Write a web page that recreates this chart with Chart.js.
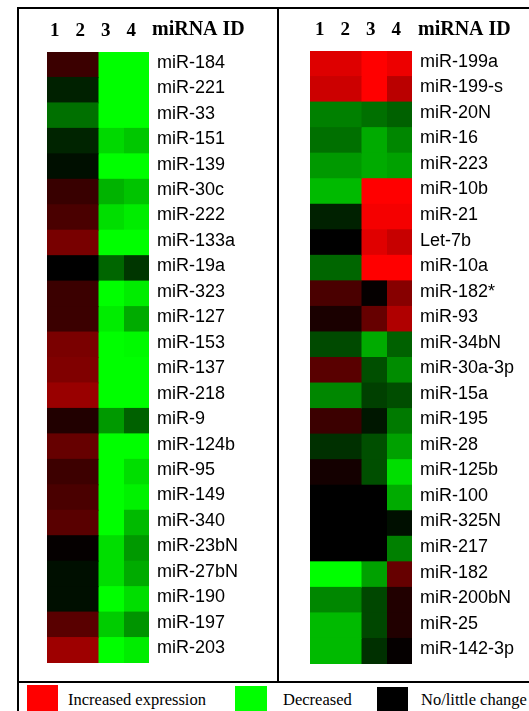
<!DOCTYPE html>
<html>
<head>
<meta charset="utf-8">
<script src="https://cdn.jsdelivr.net/npm/chart.js@4.4.1/dist/chart.umd.min.js"></script>
<style>
  html, body { margin: 0; padding: 0; background: #fff; }
  body { width: 529px; height: 711px; position: relative; overflow: hidden; }
  .line { position: absolute; background: #000; }
  .panel { position: absolute; top: 9px; }
  .key { position: absolute; }
  .key-text { position: absolute; top: 691px; font-family: "Liberation Serif", "Times New Roman", serif; font-size: 16.5px; line-height: 17px; color: #000; white-space: nowrap; }
</style>
</head>
<body>
<div class="line" style="left:17px; top:7px; width:512px; height:2px;"></div>
<div class="line" style="left:17px; top:7px; width:2px; height:704px;"></div>
<div class="line" style="left:277px; top:7px; width:2px; height:675px;"></div>
<div class="line" style="left:17px; top:681px; width:512px; height:2px;"></div>

<div class="panel" style="left:19px;"><canvas id="leftMap" width="256" height="656"></canvas></div>
<div class="panel" style="left:279px;"><canvas id="rightMap" width="250" height="656"></canvas></div>

<div class="key" style="left:27px; top:685px; width:31px; height:26px; background:#ff0000;"></div>
<div class="key-text" style="left:68px;">Increased expression</div>
<div class="key" style="left:235px; top:686px; width:32px; height:25px; background:#00ff00;"></div>
<div class="key-text" style="left:283px;">Decreased</div>
<div class="key" style="left:377px; top:687px; width:31px; height:24px; background:#000;"></div>
<div class="key-text" style="left:421px;">No/little change</div>

<script>
// Sample columns and miRNA IDs
const columnNames = ['1', '2', '3', '4'];

const leftIds = ['miR-184', 'miR-221', 'miR-33', 'miR-151', 'miR-139', 'miR-30c', 'miR-222', 'miR-133a',
  'miR-19a', 'miR-323', 'miR-127', 'miR-153', 'miR-137', 'miR-218', 'miR-9', 'miR-124b',
  'miR-95', 'miR-149', 'miR-340', 'miR-23bN', 'miR-27bN', 'miR-190', 'miR-197', 'miR-203'];

// Values: positive = increased (red), negative = decreased (green), 0 = no change (black)
const leftSample1 = [0.23, -0.13, -0.44, -0.14, -0.06, 0.22, 0.29, 0.47, 0, 0.23, 0.23, 0.48,
  0.5, 0.6, 0.13, 0.4, 0.24, 0.29, 0.35, 0.02, -0.06, -0.06, 0.35, 0.62];
const leftSample2 = [0.23, -0.13, -0.44, -0.14, -0.06, 0.22, 0.29, 0.47, 0, 0.23, 0.23, 0.48,
  0.5, 0.6, 0.13, 0.4, 0.24, 0.29, 0.35, 0.02, -0.06, -0.06, 0.35, 0.62];
const leftSample3 = [-1, -1, -1, -0.85, -1, -0.7, -0.87, -1, -0.4, -1, -0.93, -1,
  -1, -1, -0.6, -1, -1, -1, -1, -0.87, -0.87, -1, -0.8, -1];
const leftSample4 = [-1, -1, -1, -0.78, -1, -0.77, -0.93, -1, -0.21, -0.93, -0.67, -0.98,
  -1, -1, -0.38, -1, -0.87, -0.95, -0.73, -0.6, -0.67, -0.87, -0.58, -0.93];

const rightIds = ['miR-199a', 'miR-199-s', 'miR-20N', 'miR-16', 'miR-223', 'miR-10b', 'miR-21', 'Let-7b',
  'miR-10a', 'miR-182*', 'miR-93', 'miR-34bN', 'miR-30a-3p', 'miR-15a', 'miR-195', 'miR-28',
  'miR-125b', 'miR-100', 'miR-325N', 'miR-217', 'miR-182', 'miR-200bN', 'miR-25', 'miR-142-3p'];

const rightSample1 = [0.87, 0.8, -0.5, -0.44, -0.6, -0.73, -0.13, 0, -0.4, 0.29, 0.1, -0.29,
  0.35, -0.53, 0.23, -0.19, 0.08, 0, 0, 0, -1, -0.53, -0.73, -0.73];
const rightSample2 = [0.87, 0.8, -0.5, -0.44, -0.6, -0.73, -0.13, 0, -0.4, 0.29, 0.1, -0.29,
  0.35, -0.53, 0.23, -0.19, 0.08, 0, 0, 0, -1, -0.53, -0.73, -0.73];
const rightSample3 = [1, 1, -0.44, -0.67, -0.67, 1, 0.96, 0.88, 1, 0.02, 0.4, -0.67,
  -0.31, -0.25, -0.09, -0.31, -0.31, 0, 0, 0, -0.63, -0.28, -0.28, -0.19];
const rightSample4 = [0.93, 0.73, -0.38, -0.53, -0.63, 1, 0.96, 0.78, 1, 0.53, 0.69, -0.38,
  -0.55, -0.3, -0.48, -0.63, -0.87, -0.67, -0.06, -0.5, 0.4, 0.13, 0.13, 0.02];

// red / green colour for a value
function cellColor(v) {
  if (v >= 0) return 'rgb(' + Math.round(255 * v) + ',0,0)';
  return 'rgb(0,' + Math.round(-255 * v) + ',0)';
}

// draws the "miRNA ID" heading next to the column numbers
const headingPlugin = {
  id: 'heading',
  afterDraw(chart, args, opts) {
    const ctx = chart.ctx;
    ctx.save();
    ctx.font = 'bold 20px "Liberation Serif", "Times New Roman", serif';
    ctx.fillStyle = '#000';
    ctx.textBaseline = 'alphabetic';
    ctx.fillText(opts.text, chart.chartArea.right + opts.dx, opts.baseline);
    ctx.restore();
  }
};

function makeHeatmap(canvasId, ids, samples, cfg) {
  const datasets = samples.map((values, i) => ({
    label: columnNames[i],
    data: ids.map(() => 1),
    backgroundColor: values.map(cellColor),
    borderWidth: 0,
    barPercentage: 1,
    categoryPercentage: 1,
    inflateAmount: 0.5,
  }));

  return new Chart(document.getElementById(canvasId), {
    type: 'bar',
    data: { labels: ids, datasets },
    plugins: [headingPlugin],
    options: {
      indexAxis: 'y',
      responsive: false,
      animation: false,
      layout: { padding: { left: cfg.padLeft, top: 0, right: 0, bottom: cfg.padBottom } },
      plugins: {
        legend: { display: false },
        tooltip: { enabled: false },
        heading: { text: 'miRNA ID', dx: cfg.headDx, baseline: 26 },
      },
      scales: {
        x: {
          type: 'linear',
          position: 'top',
          stacked: true,
          min: 0,
          max: 4,
          grid: { display: false, drawTicks: false },
          border: { display: false },
          afterBuildTicks(scale) {
            scale.ticks = [0.5, 1.5, 2.5, 3.5].map(v => ({ value: v }));
          },
          afterFit(scale) {
            scale.height = cfg.headHeight;
            scale.paddingLeft = 0;
            scale.paddingRight = 0;
          },
          ticks: {
            autoSkip: false,
            maxRotation: 0,
            padding: 10,
            labelOffset: cfg.numOffset,
            color: '#000',
            font: { family: '"Liberation Serif", "Times New Roman", serif', size: 19, weight: 'bold' },
            callback: (v) => columnNames[Math.floor(v)],
          },
        },
        y: {
          position: 'right',
          stacked: true,
          grid: { display: false, drawTicks: false },
          border: { display: false },
          afterFit(scale) {
            scale.width = cfg.labelWidth;
            scale.paddingTop = 0;
            scale.paddingBottom = 0;
          },
          ticks: {
            autoSkip: false,
            padding: 8,
            labelOffset: -2,
            color: '#000',
            font: { family: '"Liberation Sans", Arial, sans-serif', size: 18 },
          },
        },
      },
    },
  });
}

makeHeatmap('leftMap', leftIds, [leftSample1, leftSample2, leftSample3, leftSample4],
  { padLeft: 28, padBottom: 2, labelWidth: 126, headHeight: 43, numOffset: -5, headDx: 3 });
makeHeatmap('rightMap', rightIds, [rightSample1, rightSample2, rightSample3, rightSample4],
  { padLeft: 31, padBottom: 1, labelWidth: 117, headHeight: 42, numOffset: -3, headDx: 6 });
</script>
</body>
</html>
